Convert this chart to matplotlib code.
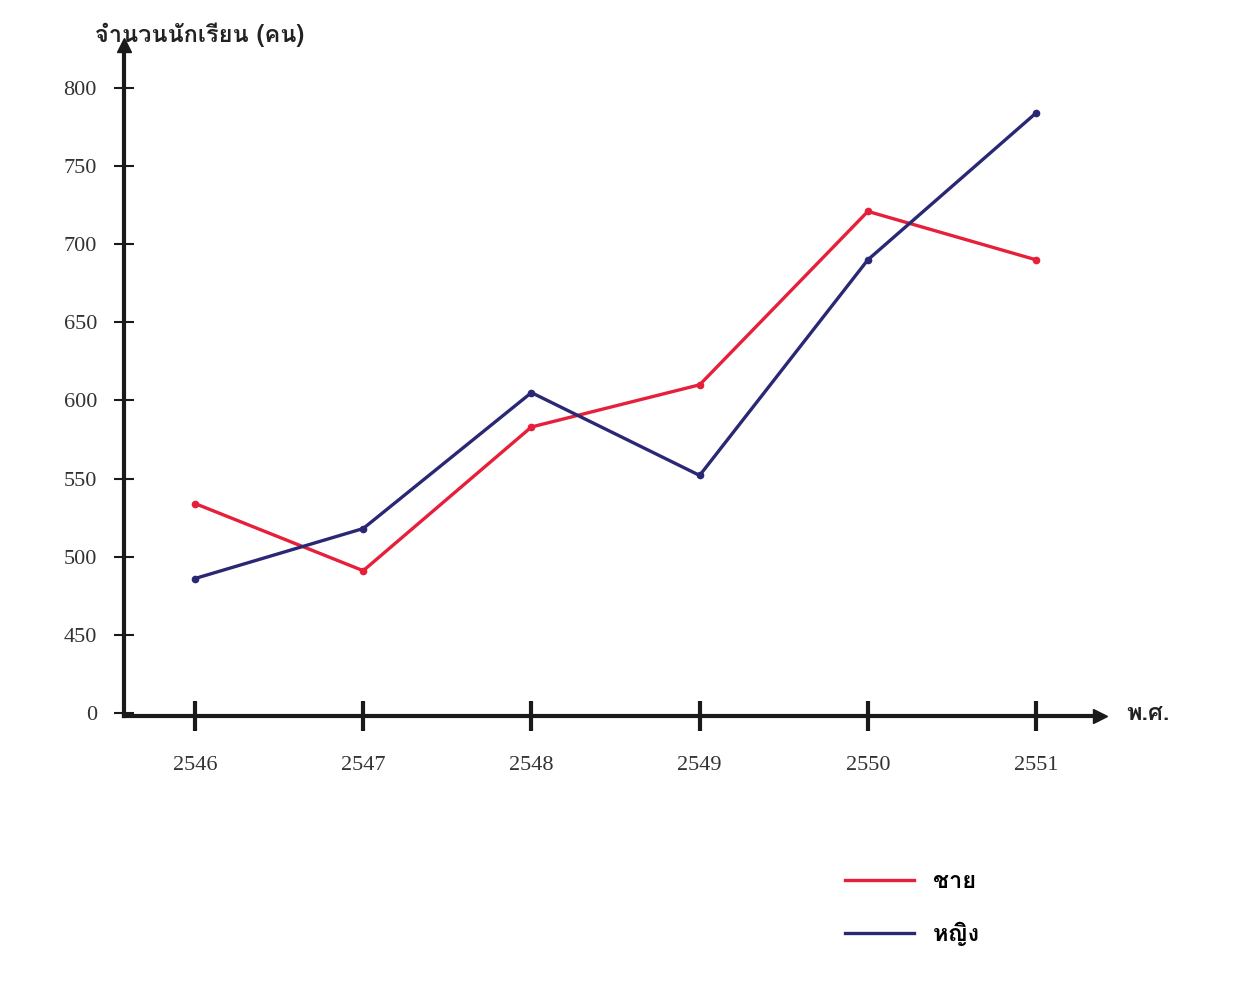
import matplotlib
matplotlib.use("Agg")
import matplotlib.pyplot as plt
from matplotlib import font_manager
from matplotlib.ft2font import FT2Font

years = ["2546", "2547", "2548", "2549", "2550", "2551"]
male = [534, 491, 583, 610, 721, 690]
female = [486, 518, 605, 552, 690, 784]
y_ticks = [400, 450, 500, 550, 600, 650, 700, 750, 800]
y_tick_labels = ["0", "450", "500", "550", "600", "650", "700", "750", "800"]


def thai_font():
    # pick an installed font that actually has Thai glyphs
    found = []
    for path in font_manager.findSystemFonts():
        try:
            if 0x0E01 in FT2Font(path).get_charmap():
                found.append(font_manager.FontProperties(fname=path).get_name())
        except Exception:
            pass
    for pref in ["Loma", "Garuda", "Norasi", "Kinnari", "Noto Serif Thai", "Noto Sans Thai"]:
        if pref in found:
            return pref
    return found[0] if found else "DejaVu Sans"


thai = [thai_font(), "DejaVu Sans"]
serif = "Liberation Serif"

fig = plt.figure(figsize=(12.47, 9.84), dpi=100)
W, H = 1247, 984
ax = fig.add_axes([124 / W, (H - 716) / H, (1100 - 124) / W, (716 - 45) / H])
ax.set_xlim(-0.422, 5.38)
ax.set_ylim(398, 827.5)

x = list(range(len(years)))
ax.plot(x, male, color="#e61f3a", lw=2.4, marker="o", ms=4.5, label="ชาย", clip_on=False, zorder=3)
ax.plot(x, female, color="#2a2874", lw=2.4, marker="o", ms=4.5, label="หญิง", clip_on=False, zorder=3)

for s in ["top", "right"]:
    ax.spines[s].set_visible(False)
for s in ["left", "bottom"]:
    ax.spines[s].set_linewidth(3)
    ax.spines[s].set_color("#1a1a1a")

# arrow heads
ax.plot(0, 1, marker="^", ms=10, color="#1a1a1a", transform=ax.transAxes, clip_on=False)
ax.plot(1, 0, marker=">", ms=10, color="#1a1a1a", transform=ax.transAxes, clip_on=False)

ax.set_xticks(x)
ax.set_xticklabels(years, fontfamily=serif, fontsize=16, color="#333333")
ax.tick_params(axis="x", direction="inout", length=22, width=3, color="#1a1a1a", pad=18)
ax.set_yticks(y_ticks)
ax.set_yticklabels(y_tick_labels, fontfamily=serif, fontsize=16, color="#333333")
ax.tick_params(axis="y", direction="inout", length=15, width=1.5, color="#1a1a1a", pad=12)

fig.text(200 / W, 1 - 35 / H, "จำนวนนักเรียน (คน)", ha="center", va="center",
         fontsize=17, fontweight="bold", family=thai, color="#222222")
fig.text(1148 / W, 1 - 713 / H, "พ.ศ.", ha="center", va="center",
         fontsize=17, fontweight="bold", family=thai, color="#222222")

leg = fig.legend(loc="upper left", bbox_to_anchor=(824 / W, 1 - 849 / H), frameon=False,
                 handlelength=2.9, labelspacing=1.2, prop={"family": thai, "size": 17, "weight": "bold"})
for h in leg.legend_handles:
    h.set_marker("")

fig.savefig("out.png", dpi=100, facecolor="white")
